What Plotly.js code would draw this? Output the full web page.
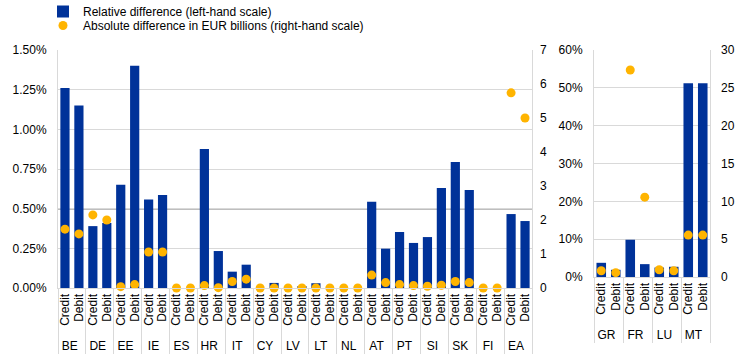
<!DOCTYPE html>
<html><head><meta charset="utf-8">
<script src="https://cdn.plot.ly/plotly-3.0.1.min.js"></script>
<style>html,body{margin:0;padding:0;background:#fff}#chart{width:744px;height:357px}</style>
</head><body><div id="chart"></div>
<script>
// Left panel (euro area countries)
const countriesA = ['BE','DE','EE','IE','ES','HR','IT','CY','LV','LT','NL','AT','PT','SI','SK','FI','EA'];
const sides = ['Credit','Debit'];
const relCreditA = [1.26, 0.39, 0.65, 0.557, 0, 0.876, 0.103, 0, 0, 0.03, 0, 0.544, 0.353, 0.321, 0.794, 0, 0.466];
const relDebitA  = [1.15, 0.41, 1.40, 0.586, 0, 0.233, 0.147, 0.032, 0.012, 0, 0, 0.248, 0.284, 0.630, 0.618, 0, 0.422];
const absCreditA = [1.73, 2.15, 0.04, 1.06, 0, 0.07, 0.19, 0, 0, 0, 0, 0.38, 0.10, 0.05, 0.19, 0, 5.74];
const absDebitA  = [1.59, 2.00, 0.10, 1.06, 0, 0.01, 0.26, 0, 0, 0, 0, 0.16, 0.07, 0.08, 0.16, 0, 5.00];
// Right panel
const countriesB = ['GR','FR','LU','MT'];
const relCreditB = [3.75, 9.85, 2.5, 51.2];
const relDebitB  = [1.9, 3.4, 2.7, 51.2];
const absCreditB = [0.83, 27.35, 0.96, 5.54];
const absDebitB  = [0.57, 10.55, 0.83, 5.54];
const threshold = 0.5;

const legendRel = 'Relative difference (left-hand scale)';
const legendAbs = 'Absolute difference in EUR billions (right-hand scale)';

function build(countries, c, d) {
  const outer = [], inner = [], vals = [];
  countries.forEach((k, i) => {
    outer.push(k, k); inner.push(sides[0], sides[1]); vals.push(c[i], d[i]);
  });
  return {x: [outer, inner], y: vals};
}

const blue = '#003299', orange = '#FFB400', grid = '#d9d9d9';
const relA = build(countriesA, relCreditA, relDebitA);
const absA = build(countriesA, absCreditA, absDebitA);
const relB = build(countriesB, relCreditB, relDebitB);
const absB = build(countriesB, absCreditB, absDebitB);

const traces = [
  {type:'bar', x: relA.x, y: relA.y, xaxis:'x', yaxis:'y', name: legendRel, marker:{color: blue}, legend:'legend'},
  {type:'scatter', mode:'markers', x: absA.x, y: absA.y, xaxis:'x', yaxis:'y2', name: legendAbs,
   marker:{color: orange, size: 9}, cliponaxis:false, legend:'legend2'},
  {type:'bar', x: relB.x, y: relB.y, xaxis:'x2', yaxis:'y3', showlegend:false, marker:{color: blue}},
  {type:'scatter', mode:'markers', x: absB.x, y: absB.y, xaxis:'x2', yaxis:'y4', showlegend:false,
   marker:{color: orange, size: 9}, cliponaxis:false}
];

const W = 744, H = 357;
const tf = {family:'Arial, "Liberation Sans", sans-serif', size:12, color:'#000'};
const xcommon = {type:'multicategory', tickangle:-90, showdividers:true, dividercolor:grid, dividerwidth:1,
  tickmode:'linear', tick0:0, dtick:1,
  tickfont: tf, showgrid:false, showline:true, linecolor:grid, ticks:'', fixedrange:true};

const legBase = {xanchor:'left', yanchor:'top', font: tf, bgcolor:'rgba(0,0,0,0)', borderwidth:0};

const layout = {
  width: W, height: H,
  margin:{l:0, r:0, t:0, b:0, autoexpand:false},
  paper_bgcolor:'#fff', plot_bgcolor:'rgba(0,0,0,0)',
  font: tf,
  bargap: 0.34,
  showlegend: true,
  legend: Object.assign({x: 43/W, y: 1 + 3/H}, legBase),
  legend2: Object.assign({x: 43/W, y: 1 - 11/H}, legBase),
  xaxis: Object.assign({}, xcommon, {domain:[58/W, 532/W], anchor:'y', range:[-0.5, 33.5]}),
  yaxis: {domain:[(H-288)/H, (H-50)/H], anchor:'x', range:[0,1.5], tickmode:'linear', tick0:0, dtick:0.25,
    tickformat:'.2f', ticksuffix:'%', gridcolor:grid, showline:true, mirror:true, linecolor:grid,
    zeroline:false, ticks:'', ticklabelstandoff:8, tickfont: tf, fixedrange:true},
  yaxis2: {overlaying:'y', side:'right', anchor:'x', range:[0,7], dtick:1, showgrid:false, showline:false,
    zeroline:false, ticks:'', ticklabelstandoff:7, tickfont: tf, fixedrange:true},
  xaxis2: Object.assign({}, xcommon, {domain:[594/W, 710/W], anchor:'y3', range:[-0.5, 7.5]}),
  yaxis3: {domain:[(H-277)/H, (H-50)/H], anchor:'x2', range:[0,60], dtick:10, ticksuffix:'%',
    gridcolor:grid, showline:true, mirror:true, linecolor:grid, zeroline:false, ticks:'',
    ticklabelstandoff:8, tickfont: tf, fixedrange:true},
  yaxis4: {overlaying:'y3', side:'right', anchor:'x2', range:[0,30], dtick:5, showgrid:false, showline:false,
    zeroline:false, ticks:'', ticklabelstandoff:10, tickfont: tf, fixedrange:true},
  shapes: [{type:'line', xref:'x domain', x0:0, x1:1, yref:'y', y0:threshold, y1:threshold,
    line:{color:'#7f7f7f', width:1.5}, layer:'below'}]
};

Plotly.newPlot('chart', traces, layout, {displayModeBar:false, staticPlot:true});
</script>
</body></html>
